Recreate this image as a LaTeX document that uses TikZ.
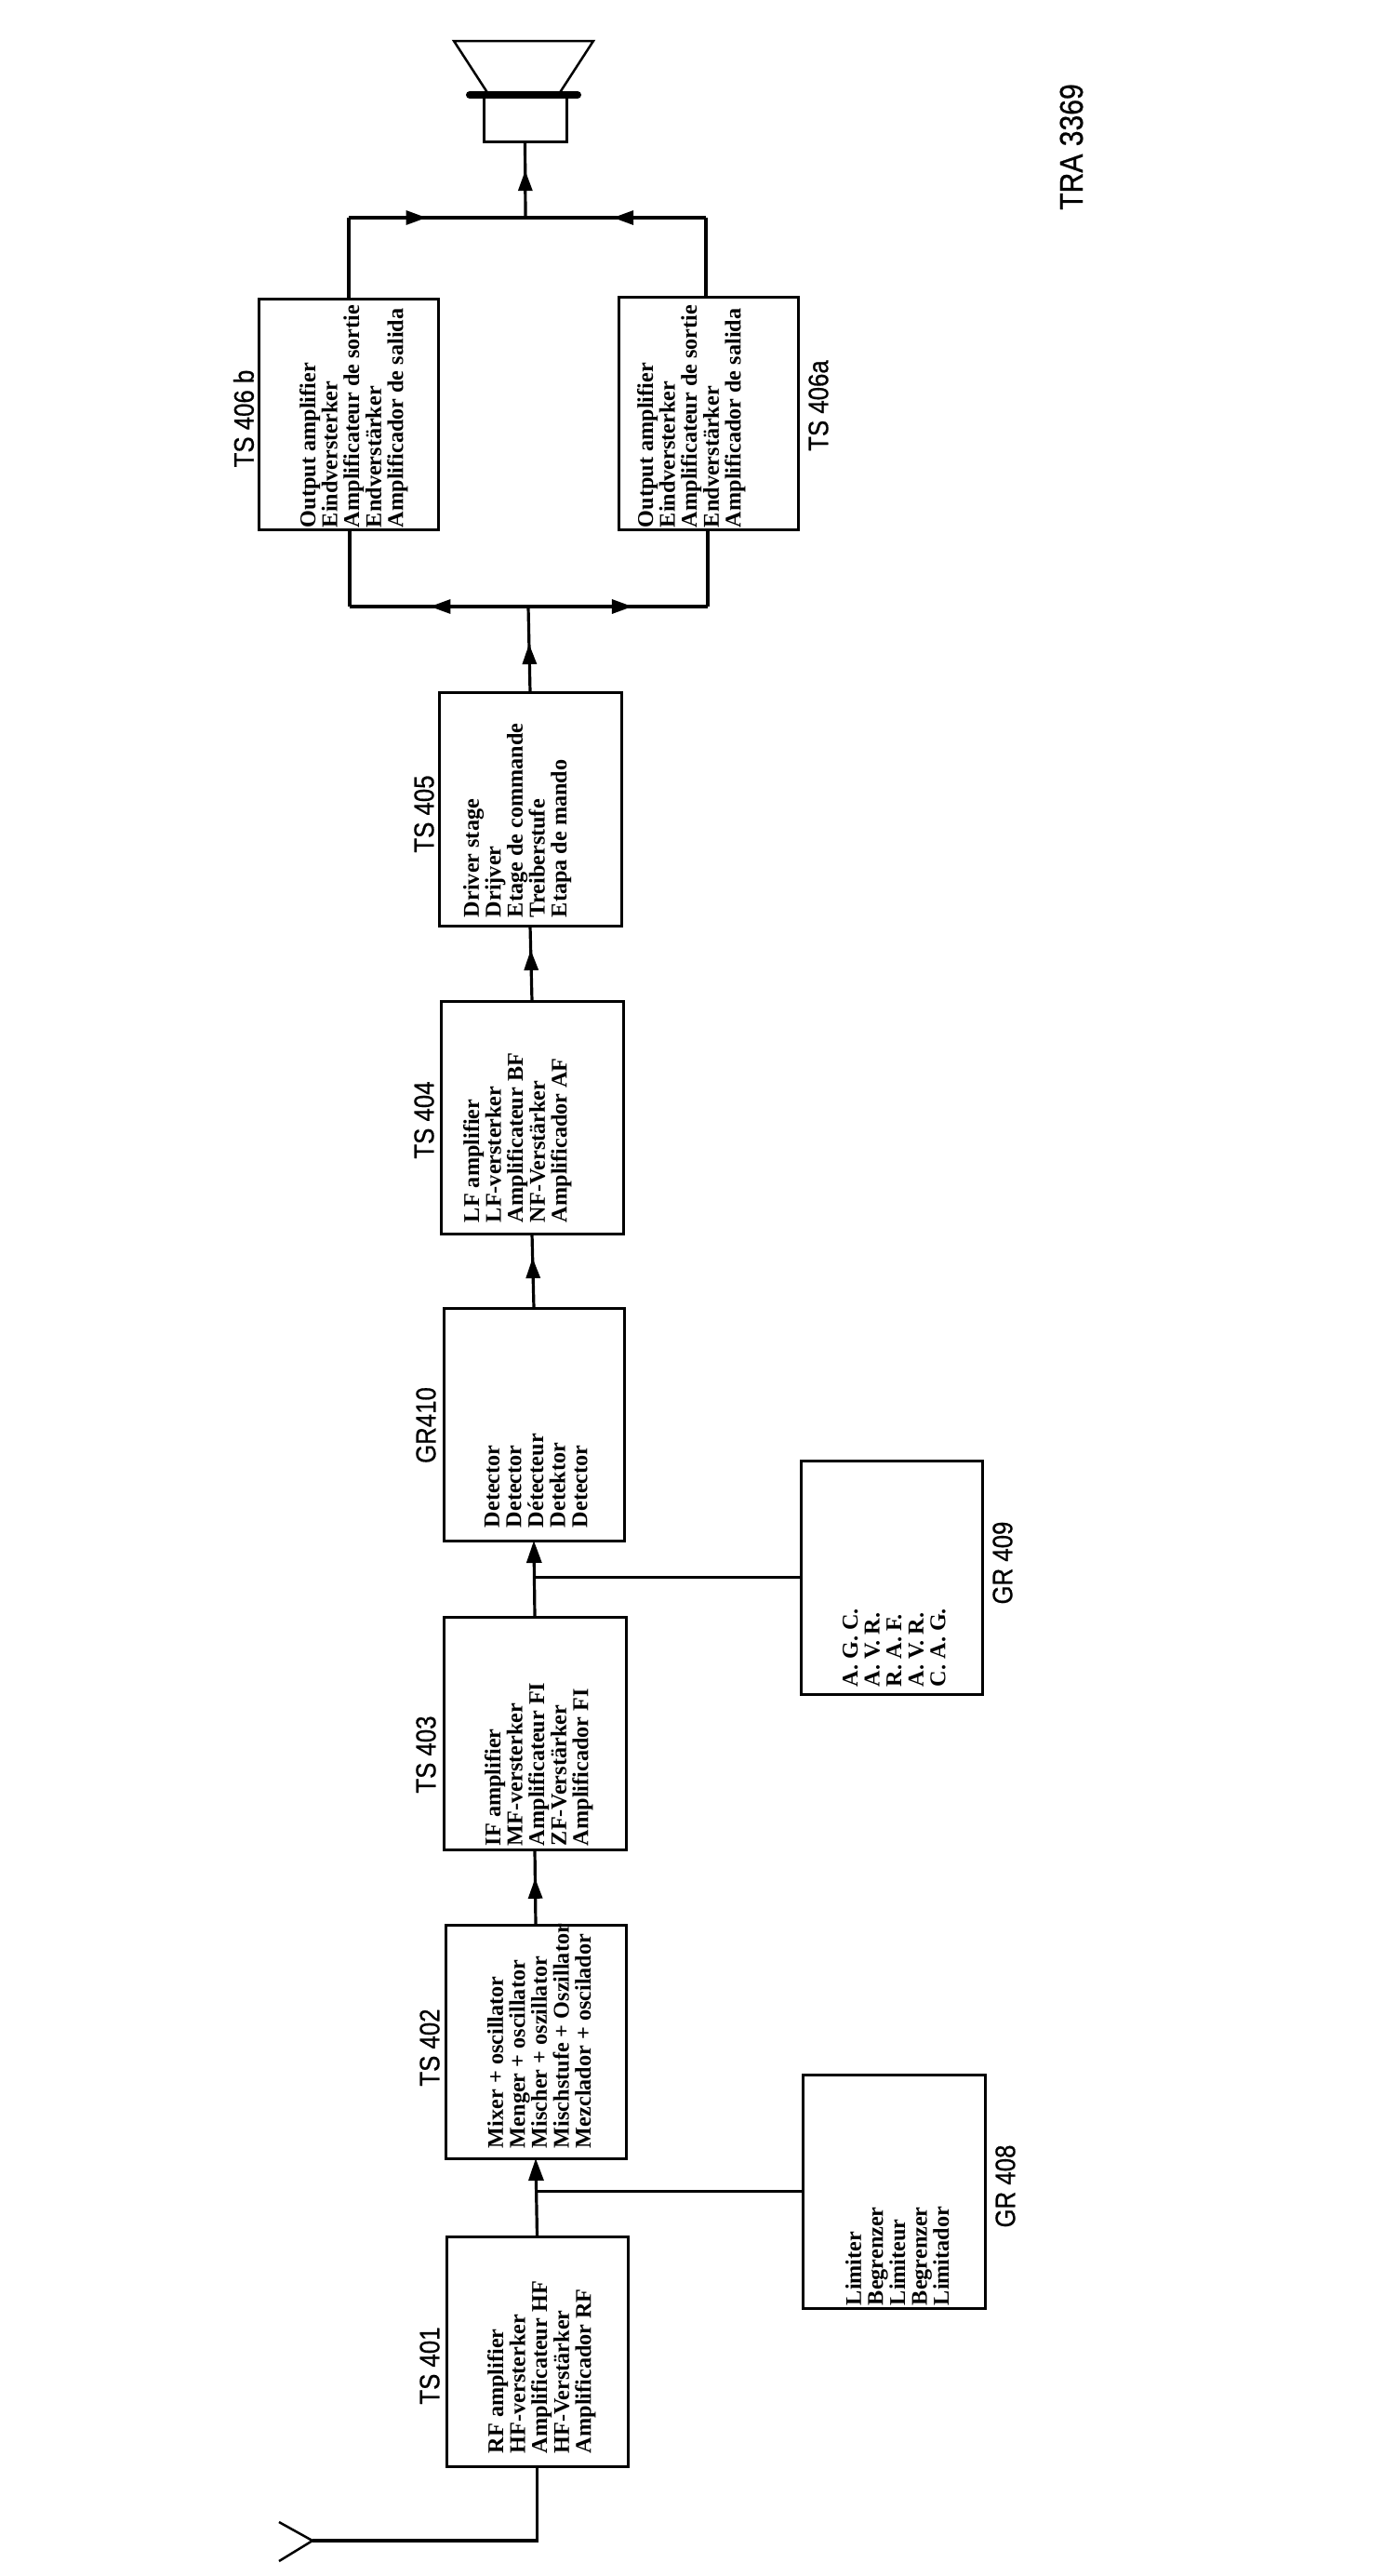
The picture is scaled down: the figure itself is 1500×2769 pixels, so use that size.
\documentclass[tikz,border=0pt]{standalone}
\usepackage{fontspec}
\setmainfont{Liberation Serif}
\newfontfamily\lblfont[FakeStretch=0.86,FakeBold=0.6]{Liberation Sans}
\usetikzlibrary{arrows.meta,decorations.markings}
\tikzset{
  x=1pt,y=-1pt,
  blk/.style={draw=black,line width=3pt,inner sep=0pt,outer sep=0pt,rectangle},
  wire/.style={draw=black,line width=3.2pt},
  thinwire/.style={draw=black,line width=2.5pt},
  boxtext/.style={rotate=90,anchor=north west,align=left,inner sep=0pt,outer sep=0pt,font=\fontsize{24.2}{23.6}\selectfont\bfseries},
  tag/.style={rotate=90,anchor=center,inner sep=0pt,font=\lblfont\fontsize{30}{30}\selectfont},
  bigtag/.style={rotate=90,anchor=center,inner sep=0pt,font=\lblfont\fontsize{35}{35}\selectfont},
  tipat/.style={postaction={decorate},decoration={markings,mark=at position #1 with {\arrow{Triangle[length=22pt,width=15pt]}}}},
  endtip/.style={-{Triangle[length=24pt,width=16pt]}}
}
\begin{document}
\begin{tikzpicture}
\fill[white] (0,0) rectangle (1500,2769);
\useasboundingbox (0,0) rectangle (1500,2769);

% boxes
\node[blk,minimum width=193pt,minimum height=248pt] (ts406b) at (374.5,445) {};
\node[blk,minimum width=193pt,minimum height=250pt] (ts406a) at (761.5,444) {};
\node[blk,minimum width=196pt,minimum height=251pt] (ts405) at (570,869.5) {};
\node[blk,minimum width=196pt,minimum height=250pt] (ts404) at (572,1201) {};
\node[blk,minimum width=194pt,minimum height=250pt] (gr410) at (574,1531) {};
\node[blk,minimum width=196pt,minimum height=250pt] (ts403) at (575,1863) {};
\node[blk,minimum width=194pt,minimum height=251pt] (ts402) at (576,2194.5) {};
\node[blk,minimum width=195pt,minimum height=247pt] (ts401) at (577.5,2527.5) {};
\node[blk,minimum width=195pt,minimum height=251pt] (gr409) at (958.5,1695.5) {};
\node[blk,minimum width=196pt,minimum height=251pt] (gr408) at (961,2355.5) {};

% box texts
\node[boxtext] (t406b) at (322,567) {Output amplifier\\Eindversterker\\Amplificateur de sortie\\Endverstärker\\Amplificador de salida};
\node[boxtext] (t406a) at (685,567) {Output amplifier\\Eindversterker\\Amplificateur de sortie\\Endverstärker\\Amplificador de salida};
\node[boxtext] (t405) at (498,986) {Driver stage\\Drijver\\Etage de commande\\Treiberstufe\\Etapa de mando};
\node[boxtext] (t404) at (498,1314) {LF amplifier\\LF-versterker\\Amplificateur BF\\NF-Verstärker\\Amplificador AF};
\node[boxtext] (t410) at (521,1642) {Detector\\Detector\\Détecteur\\Detektor\\Detector};
\node[boxtext] (t403) at (521,1984) {IF amplifier\\MF-versterker\\Amplificateur FI\\ZF-Verstärker\\Amplificador FI};
\node[boxtext] (t402) at (524,2309) {Mixer + oscillator\\Menger + oscillator\\Mischer + oszillator\\Mischstufe + Oszillator\\Mezclador + oscilador};
\node[boxtext] (t401) at (524,2637) {RF amplifier\\HF-versterker\\Amplificateur HF\\HF-Verstärker\\Amplificador RF};
\node[boxtext] (t409) at (906,1813) {A. G. C.\\A. V. R.\\R. A. F.\\A. V. R.\\C. A. G.};
\node[boxtext] (t408) at (909,2478) {Limiter\\Begrenzer\\Limiteur\\Begrenzer\\Limitador};

% labels
\node[tag] (l406b) at (262,450) {TS 406 b};
\node[tag] (l406a) at (880,436) {TS 406a};
\node[tag] (l405) at (456,875) {TS 405};
\node[tag] (l404) at (456,1204) {TS 404};
\node[tag] (l410) at (458,1532) {GR410};
\node[tag] (l403) at (458,1886) {TS 403};
\node[tag] (l402) at (462,2201) {TS 402};
\node[tag] (l401) at (462,2543) {TS 401};
\node[tag] (l409) at (1078,1680) {GR 409};
\node[tag] (l408) at (1081,2350) {GR 408};
\node[bigtag] (ltra) at (1152,158) {TRA 3369};

% speaker
\node[blk,minimum width=89pt,minimum height=50pt] (spk) at (564.5,127) {};
\coordinate (coneL) at (488,44);
\coordinate (coneR) at (638,44);
\coordinate (neckL) at (525,101);
\coordinate (neckR) at (601,101);
\coordinate (barL) at (505,102);
\coordinate (barR) at (621,102);
\draw[thinwire,line join=miter] (neckL) -- (coneL) -- (coneR) -- (neckR);
\draw[draw=black,line width=8pt,line cap=round] (barL) -- (barR);

% output bus
\coordinate (outj) at (565,234);
\coordinate (outl) at (375,234);
\coordinate (outr) at (759,234);
\draw[wire] (ts406b.north -| outl) -- (outl);
\draw[wire] (ts406a.north -| outr) -- (outr);
\draw[wire,tipat=0.44] (outl) -- (outj);
\draw[wire,tipat=0.515] (outr) -- (outj);
\draw[wire,tipat=0.62] (outj) -- (spk.south);

% input bus
\coordinate (inj) at (568,652);
\coordinate (inl) at (376,652);
\coordinate (inr) at (761,652);
\draw[wire] (ts406b.south -| inl) -- (inl);
\draw[wire] (ts406a.south -| inr) -- (inr);
\draw[wire,tipat=0.55] (inj) -- (inl);
\draw[wire,tipat=0.58] (inj) -- (inr);
\draw[wire,tipat=0.565] (ts405.north) -- (inj);

% chain
\draw[wire,tipat=0.68] (ts404.north) -- (ts405.south);
\draw[wire,tipat=0.675] (gr410.north) -- (ts404.south);
\draw[wire,endtip] (ts403.north) -- (gr410.south);
\draw[wire,tipat=0.62] (ts402.north) -- (ts403.south);
\draw[wire,endtip] (ts401.north) -- (ts402.south);

% side branches
\coordinate (j409) at (574,1695.5);
\coordinate (j408) at (576,2355.5);
\draw[thinwire] (j409) -- (gr409.west);
\draw[wire] (j408) -- (gr408.west);

% antenna
\coordinate (ant) at (336,2731);
\coordinate (antU) at (300,2711);
\coordinate (antD) at (300,2753);
\draw[wire] (ts401.south) |- (ant);
\draw[thinwire] (antU) -- (ant) -- (antD);
\end{tikzpicture}
\end{document}
